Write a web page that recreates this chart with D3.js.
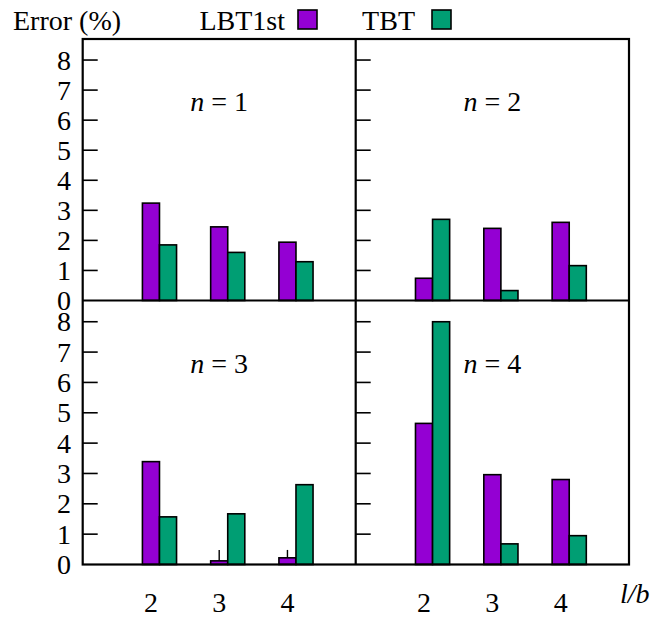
<!DOCTYPE html>
<html>
<head>
<meta charset="utf-8">
<script src="https://cdn.jsdelivr.net/npm/d3@7"></script>
<style>
  html, body { margin: 0; padding: 0; background: #fff; }
  svg text { font-family: "Liberation Serif", "FreeSerif", "Tinos", serif !important; }
</style>
</head>
<body>
<svg id="chart" width="651" height="624"></svg>
<script>
// ---- data ----
const categories = ["2", "3", "4"];
const seriesNames = ["LBT1st", "TBT"];
const panelN = [1, 2, 3, 4];
const lbt1st_n1 = [3.24, 2.45, 1.94];
const tbt_n1    = [1.85, 1.60, 1.29];
const lbt1st_n2 = [0.74, 2.40, 2.60];
const tbt_n2    = [2.70, 0.33, 1.16];
const lbt1st_n3 = [3.39, 0.12, 0.22];
const tbt_n3    = [1.57, 1.67, 2.63];
const lbt1st_n4 = [4.65, 2.96, 2.80];
const tbt_n4    = [8.00, 0.68, 0.95];
const errTop_n3 = [null, 0.48, 0.48];   // whisker tops on LBT1st, n = 3
const yTicks = [0, 1, 2, 3, 4, 5, 6, 7, 8];

const colors = ["#9400d3", "#009e73"];

// ---- layout ----
const svg = d3.select("#chart");
const L = 82.7, M = 355.7, R = 629, T = 39, C = 300.5, B = 564.5;
const FS = 28;
const panels = [
  { n: panelN[0], x0: L, x1: M, y0: T, y1: C, lbt: lbt1st_n1, tbt: tbt_n1, err: null, labels: true },
  { n: panelN[1], x0: M, x1: R, y0: T, y1: C, lbt: lbt1st_n2, tbt: tbt_n2, err: null, labels: false },
  { n: panelN[2], x0: L, x1: M, y0: C, y1: B, lbt: lbt1st_n3, tbt: tbt_n3, err: errTop_n3, labels: true },
  { n: panelN[3], x0: M, x1: R, y0: C, y1: B, lbt: lbt1st_n4, tbt: tbt_n4, err: null, labels: false }
];

function txt(sel) {
  return sel.append("text").attr("font-size", FS).style("font-family", "Liberation Serif").attr("fill", "#000");
}

panels.forEach(p => {
  const x = d3.scaleLinear().domain([0, 4]).range([p.x0, p.x1]);
  const y = d3.scaleLinear().domain([0, 8.7]).range([p.y1, p.y0]);
  const g = svg.append("g");
  const bw = 0.25;
  const rows = categories.map((c, i) => ({ i, vals: [p.lbt[i], p.tbt[i]] }));
  rows.forEach(r => {
    r.vals.forEach((v, s) => {
      const xs = r.i + 1 - bw / 2 + s * bw;
      g.append("rect")
        .attr("x", x(xs)).attr("width", x(xs + bw) - x(xs))
        .attr("y", y(v)).attr("height", y(0) - y(v))
        .attr("fill", colors[s]).attr("stroke", "#000").attr("stroke-width", 1.6);
    });
    if (p.err && p.err[r.i] != null) {
      g.append("line")
        .attr("x1", x(r.i + 1)).attr("x2", x(r.i + 1))
        .attr("y1", y(p.lbt[r.i])).attr("y2", y(p.err[r.i]))
        .attr("stroke", "#000").attr("stroke-width", 1.4);
    }
  });
  // ticks on the left edge
  yTicks.filter(t => t > 0).forEach(t => {
    g.append("line").attr("x1", p.x0).attr("x2", p.x0 + 15)
      .attr("y1", y(t)).attr("y2", y(t))
      .attr("stroke", "#000").attr("stroke-width", 1.6);
  });
  if (p.labels) {
    yTicks.forEach(t => {
      txt(g).attr("x", 71).attr("y", y(t)).attr("dy", "0.34em")
        .attr("text-anchor", "end").text(t);
    });
  }
  // n = k label
  const lab = txt(g)
    .attr("x", (p.x0 + p.x1) / 2).attr("y", p.y0 + 72)
    .attr("text-anchor", "middle");
  lab.append("tspan").attr("font-style", "italic").text("n");
  lab.append("tspan").text(" = " + p.n);
  // x category labels on bottom panels
  if (p.y1 === B) {
    categories.forEach((c, i) => {
      txt(g).attr("x", x(i + 1)).attr("y", 612)
        .attr("text-anchor", "middle").text(c);
    });
  }
});

// borders
svg.append("rect").attr("x", L).attr("y", T).attr("width", R - L).attr("height", B - T)
  .attr("fill", "none").attr("stroke", "#000").attr("stroke-width", 2.2);
svg.append("line").attr("x1", M).attr("x2", M).attr("y1", T).attr("y2", B)
  .attr("stroke", "#000").attr("stroke-width", 2.2);
svg.append("line").attr("x1", L).attr("x2", R).attr("y1", C).attr("y2", C)
  .attr("stroke", "#000").attr("stroke-width", 2.2);

// axis titles
txt(svg).attr("x", 13).attr("y", 30).text("Error (%)");
txt(svg).attr("x", 620).attr("y", 603).attr("font-style", "italic").text("l/b");

// legend
const legendItems = [
  { name: seriesNames[0], textEnd: 285, sx: 298 },
  { name: seriesNames[1], textEnd: 415, sx: 432 }
];
legendItems.forEach((d, i) => {
  txt(svg).attr("x", d.textEnd).attr("y", 30).attr("text-anchor", "end").text(d.name);
  svg.append("rect").attr("x", d.sx).attr("y", 10).attr("width", 19).attr("height", 19)
    .attr("fill", colors[i]).attr("stroke", "#000").attr("stroke-width", 1.6);
});
</script>
</body>
</html>
